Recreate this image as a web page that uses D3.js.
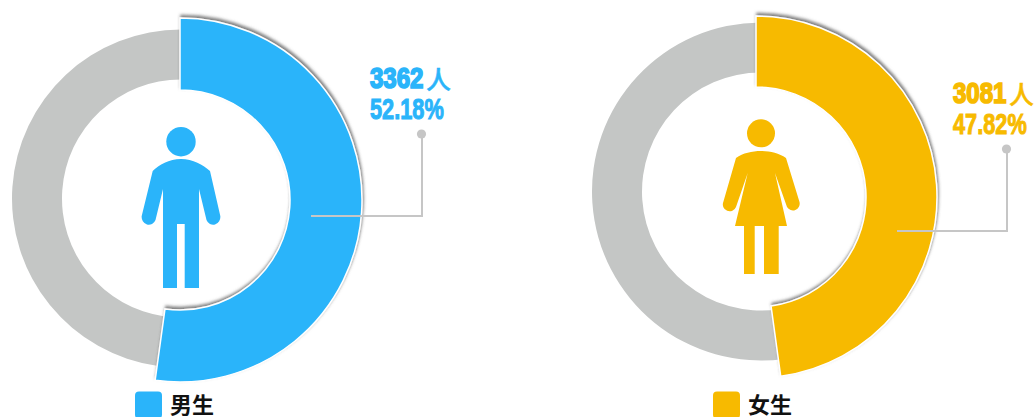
<!DOCTYPE html>
<html><head><meta charset="utf-8">
<script src="https://cdnjs.cloudflare.com/ajax/libs/d3/7.8.5/d3.min.js"></script>
<style>html,body{margin:0;padding:0;background:#fff;overflow:hidden}svg{display:block}</style>
</head><body><svg id="c" width="1034" height="417"></svg>
<script>
const categories = ["男生", "女生"];
const counts = [3362, 3081];
const percentLabels = ["52.18%", "47.82%"];
const colours = ["#2AB4FA", "#F7BA00"];
const grey = "#C4C6C5";

const layouts = [
  {cx:180, cy:200, outer:182, inner:110, gx:181, gy:198.5, lineY:216, lineX0:311, lineX1:422, dotY:134, tx:370, ty1:87.5, ty2:119, legX:135},
  {cx:756, cy:197, outer:181, inner:110, gx:761, gy:191.5, lineY:231, lineX0:897, lineX1:1007, dotY:149, tx:953, ty1:102.5, ty2:134, legX:713}
];
const icons = [
  {head:[181,141.7,14.7], d:"M181 159C169 159 159 165 152.7 171L141.7 216A7.2 7.8 0 0 0 155.5 220L163 189V288H177V224H184.7V288H199V189L206.5 220A7.2 7.8 0 0 0 220.3 216L210 171C203 165 193 159 181 159Z"},
  {head:[761,133.3,14], d:"M761 151C752 151 743 153 736 158L723.3 202A6.8 6.8 0 0 0 736 207L747.7 173L735 226H744V274H754.7V226H764V274H778.7V226H787L775 173L787 207A6.8 6.8 0 0 0 799.5 202L786 158C779 153 770 151 761 151Z"}
];

const svg = d3.select("#c");
const f = svg.append("defs").append("filter").attr("id","sh")
  .attr("x","-10%").attr("y","-10%").attr("width","120%").attr("height","120%");
f.append("feDropShadow").attr("dx",1).attr("dy",-2.5).attr("stdDeviation",1.4)
  .attr("flood-color","#555").attr("flood-opacity",0.75);

const total = d3.sum(counts);
const pie = d3.pie().sort(null);
const arcGen = d3.arc();
const numFont = "'Liberation Sans',Arial,sans-serif";

categories.forEach((name,i)=>{
  const L = layouts[i], col = colours[i];
  const slices = pie([counts[i], total-counts[i]]);
  svg.append("path").attr("transform",`translate(${L.gx},${L.gy})`)
    .attr("d",arcGen({innerRadius:119,outerRadius:169,startAngle:slices[1].startAngle,endAngle:slices[1].endAngle}))
    .attr("fill",grey);
  svg.append("path").attr("transform",`translate(${L.cx},${L.cy})`)
    .attr("d",arcGen({innerRadius:L.inner,outerRadius:L.outer,startAngle:slices[0].startAngle,endAngle:slices[0].endAngle}))
    .attr("fill",col).attr("stroke","#fff").attr("stroke-width",1.5).attr("filter","url(#sh)");
  // leader
  svg.append("polyline").attr("fill","none").attr("stroke","#C6C6C6").attr("stroke-width",2)
    .attr("points",[[L.lineX0,L.lineY],[L.lineX1,L.lineY],[L.lineX1,L.dotY]].join(" "));
  svg.append("circle").attr("cx",L.lineX1-0.5).attr("cy",L.dotY).attr("r",4.6).attr("fill","#C6C6C6");
  // icon
  svg.append("circle").attr("cx",icons[i].head[0]).attr("cy",icons[i].head[1]).attr("r",icons[i].head[2]).attr("fill",col);
  svg.append("path").attr("d",icons[i].d).attr("fill",col);
  // labels
  svg.append("text").attr("transform",`translate(${L.tx},${L.ty1}) scale(0.83,1)`).attr("fill",col).attr("stroke",col).attr("stroke-width",1.7)
    .attr("font-family",numFont).attr("font-weight",700).attr("font-size",29).text(counts[i]);
  svg.append("text").attr("x",L.tx+56).attr("y",L.ty1+1).attr("fill",col).attr("stroke",col).attr("stroke-width",0.5)
    .attr("font-family","'Noto Sans CJK SC'").attr("font-weight",500).attr("font-size",25).text("人");
  svg.append("text").attr("transform",`translate(${L.tx},${L.ty2}) scale(0.75,1)`).attr("fill",col).attr("stroke",col).attr("stroke-width",1)
    .attr("font-family",numFont).attr("font-weight",700).attr("font-size",29).text(percentLabels[i]);
  // legend
  svg.append("rect").attr("x",L.legX).attr("y",391.5).attr("width",27).attr("height",27).attr("rx",4).attr("fill",col);
  svg.append("text").attr("x",L.legX+35).attr("y",412.5).attr("fill","#111")
    .attr("font-family","'Noto Sans CJK SC'").attr("font-weight",700).attr("font-size",22).text(name);
});
</script></body></html>
